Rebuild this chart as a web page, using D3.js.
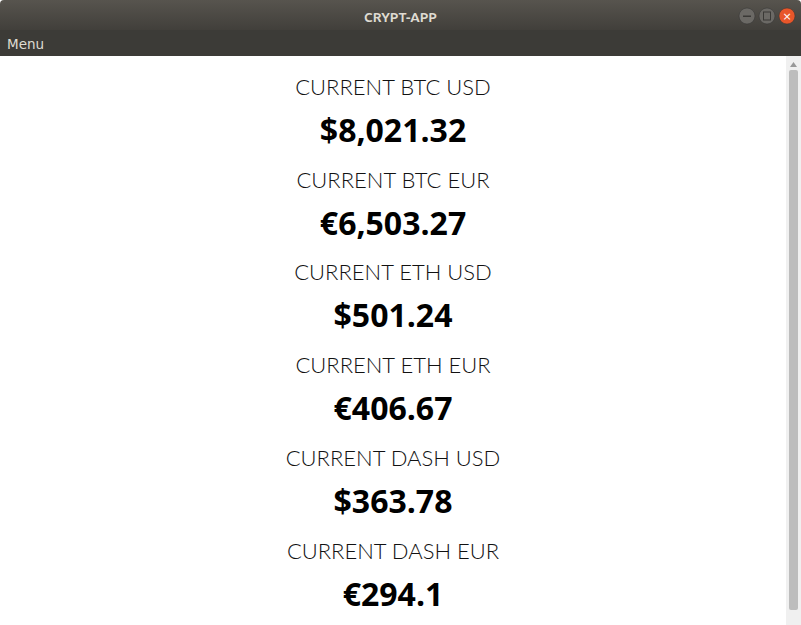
<!DOCTYPE html>
<html><head><meta charset="utf-8">
<script src="https://cdn.jsdelivr.net/npm/d3@7"></script>
<style>body{margin:0;background:#fff;overflow:hidden}</style>
</head><body><svg id="c" width="801" height="625"></svg>
<script>
const labels = ["CURRENT BTC USD","CURRENT BTC EUR","CURRENT ETH USD","CURRENT ETH EUR","CURRENT DASH USD","CURRENT DASH EUR"];
const prices = ["$8,021.32","€6,503.27","$501.24","€406.67","$363.78","€294.1"];

const svg = d3.select("#c");
const W = 801, H = 625;

// window chrome
const defs = svg.append("defs");
const g = defs.append("linearGradient").attr("id","tb").attr("x1",0).attr("x2",0).attr("y1",0).attr("y2",1);
g.append("stop").attr("offset","0").attr("stop-color","#57544e");
g.append("stop").attr("offset","1").attr("stop-color","#3d3b37");
svg.append("rect").attr("width",W).attr("height",H).attr("fill","#fff");
svg.append("rect").attr("width",W).attr("height",36).attr("fill","url(#tb)").attr("rx",4);
svg.append("rect").attr("y",30).attr("width",W).attr("height",26).attr("fill","#3c3b37");
svg.append("text").attr("x",W/2).attr("y",22).attr("text-anchor","middle")
  .attr("font-family","Ubuntu, 'DejaVu Sans', sans-serif").attr("font-weight","bold")
  .attr("font-size",13.5).attr("fill","#dfdbd2").text("CRYPT-APP");
svg.append("text").attr("x",7).attr("y",49).attr("font-family","'DejaVu Sans', sans-serif")
  .attr("font-size",13.5).attr("fill","#dfdbd2").text("Menu");
[[747,"#6b6965"],[767,"#6b6965"],[787,"#e8562a"]].forEach(([cx,col]) =>
  svg.append("circle").attr("cx",cx).attr("cy",16).attr("r",8).attr("fill",col).attr("stroke","#333").attr("stroke-width",0.5));
svg.append("text").attr("x",787).attr("y",20).attr("text-anchor","middle").attr("font-size",11)
  .attr("font-family","DejaVu Sans").attr("fill","#fff").text("×");
svg.append("rect").attr("x",747-4).attr("y",15.5).attr("width",8).attr("height",1.5).attr("fill","#3a3936");
svg.append("rect").attr("x",767-3.5).attr("y",12).attr("width",7).attr("height",8).attr("fill","none").attr("stroke","#3a3936");

// scrollbar
svg.append("rect").attr("x",786).attr("y",56).attr("width",15).attr("height",H-56).attr("fill","#f0f0f0");
svg.append("rect").attr("x",789).attr("y",70).attr("width",9).attr("height",540).attr("fill","#bdbdbd").attr("rx",2);
svg.append("path").attr("d","M790,67 L793.5,62 L797,67Z").attr("fill","#999");

// content rows
const y = d3.scaleBand().domain(d3.range(labels.length)).range([56, 56+6*92.7]);
const rows = svg.selectAll("g.row").data(labels).join("g").attr("class","row")
  .attr("transform",(d,i)=>`translate(393,${y(i)})`);
rows.append("text").attr("y",39).attr("text-anchor","middle")
  .attr("font-family","Lato, 'Open Sans', sans-serif").attr("font-weight",300)
  .attr("font-size",22).attr("fill","#111").text(d=>d);
rows.append("text").attr("y",86).attr("text-anchor","middle")
  .attr("font-family","'Open Sans', Lato, sans-serif").attr("font-weight",700)
  .attr("font-size",32).attr("fill","#000").text((d,i)=>prices[i]);
</script></body></html>
